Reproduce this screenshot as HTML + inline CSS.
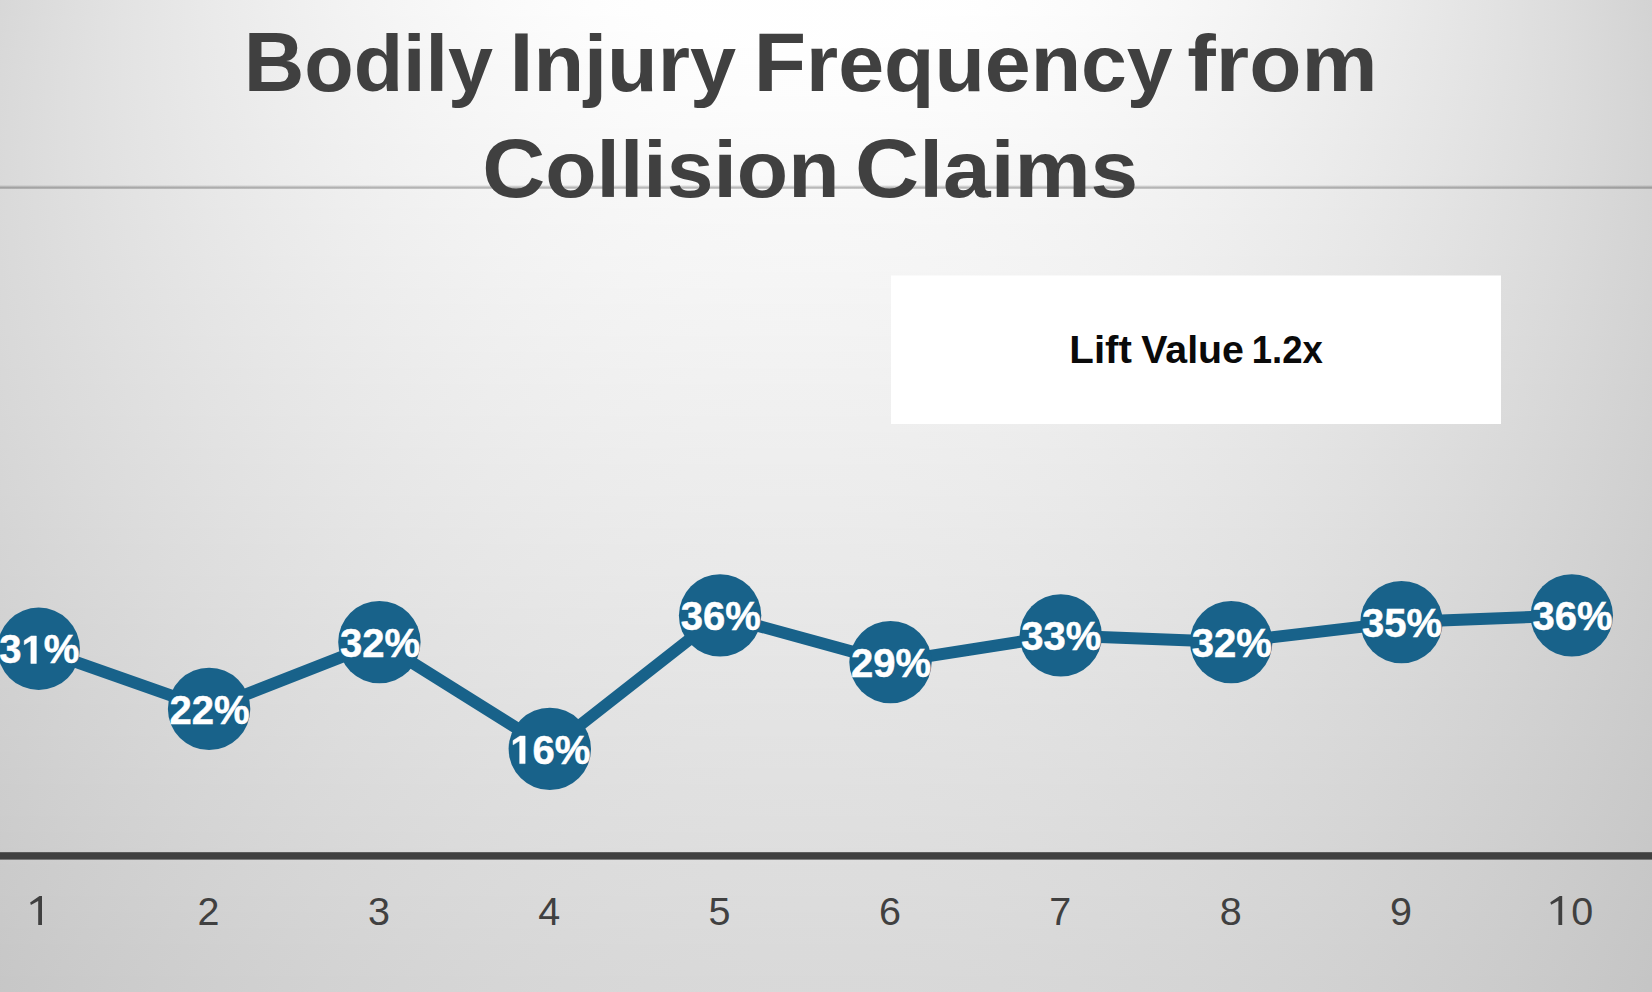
<!DOCTYPE html>
<html><head><meta charset="utf-8"><title>Bodily Injury Frequency from Collision Claims</title>
<style>
html,body{margin:0;padding:0;width:1652px;height:992px;overflow:hidden;background:#dcdcdc;}
body{font-family:"Liberation Sans",sans-serif;}
#bg{position:absolute;left:0;top:0;width:1652px;height:992px;overflow:hidden;}
#bg div{position:absolute;left:0;width:1652px;height:16px;}
svg{position:absolute;left:0;top:0;}
.title text{font-family:"Liberation Sans",sans-serif;font-weight:bold;font-size:80px;fill:#404040;text-anchor:start;}
.dl text{font-family:"Liberation Sans",sans-serif;font-weight:bold;font-size:40px;text-anchor:start;}
.ax text{font-family:"Liberation Sans",sans-serif;font-size:39.5px;fill:#404040;text-anchor:middle;}
.lift{font-family:"Liberation Sans",sans-serif;font-weight:bold;font-size:38.5px;fill:#0a0a0a;text-anchor:start;}
</style></head>
<body>
<div id="bg">
<div style="top:0px;background:linear-gradient(90deg,rgb(215.7,215.7,215.7),rgb(222.2,222.2,222.2),rgb(228.1,228.1,228.1),rgb(233.5,233.5,233.5),rgb(238.3,238.3,238.3),rgb(242.6,242.6,242.6),rgb(246.2,246.2,246.2),rgb(249.3,249.3,249.3),rgb(251.8,251.8,251.8),rgb(253.7,253.7,253.7),rgb(254.4,254.4,254.4),rgb(254.5,254.5,254.5),rgb(254.6,254.6,254.6),rgb(254.6,254.6,254.6),rgb(254.5,254.5,254.5),rgb(252.8,252.8,252.8),rgb(250.6,250.6,250.6),rgb(247.8,247.8,247.8),rgb(244.3,244.3,244.3),rgb(240.3,240.3,240.3),rgb(235.7,235.7,235.7),rgb(230.4,230.4,230.4),rgb(224.6,224.6,224.6),rgb(218.1,218.1,218.1),rgb(211.1,211.1,211.1))"></div>
<div style="top:16px;background:linear-gradient(90deg,rgb(216.0,216.0,216.0),rgb(222.4,222.4,222.4),rgb(228.2,228.2,228.2),rgb(233.4,233.4,233.4),rgb(238.1,238.1,238.1),rgb(242.3,242.3,242.3),rgb(245.8,245.8,245.8),rgb(248.9,248.9,248.9),rgb(251.3,251.3,251.3),rgb(253.2,253.2,253.2),rgb(254.4,254.4,254.4),rgb(254.5,254.5,254.5),rgb(254.6,254.6,254.6),rgb(254.6,254.6,254.6),rgb(253.9,253.9,253.9),rgb(252.3,252.3,252.3),rgb(250.1,250.1,250.1),rgb(247.3,247.3,247.3),rgb(243.9,243.9,243.9),rgb(240.0,240.0,240.0),rgb(235.4,235.4,235.4),rgb(230.3,230.3,230.3),rgb(224.5,224.5,224.5),rgb(218.2,218.2,218.2),rgb(211.3,211.3,211.3))"></div>
<div style="top:32px;background:linear-gradient(90deg,rgb(216.3,216.3,216.3),rgb(222.5,222.5,222.5),rgb(228.2,228.2,228.2),rgb(233.3,233.3,233.3),rgb(237.9,237.9,237.9),rgb(242.0,242.0,242.0),rgb(245.5,245.5,245.5),rgb(248.4,248.4,248.4),rgb(250.8,250.8,250.8),rgb(252.6,252.6,252.6),rgb(253.9,253.9,253.9),rgb(254.6,254.6,254.6),rgb(254.6,254.6,254.6),rgb(254.3,254.3,254.3),rgb(253.2,253.2,253.2),rgb(251.7,251.7,251.7),rgb(249.5,249.5,249.5),rgb(246.8,246.8,246.8),rgb(243.5,243.5,243.5),rgb(239.6,239.6,239.6),rgb(235.1,235.1,235.1),rgb(230.1,230.1,230.1),rgb(224.5,224.5,224.5),rgb(218.3,218.3,218.3),rgb(211.5,211.5,211.5))"></div>
<div style="top:48px;background:linear-gradient(90deg,rgb(216.6,216.6,216.6),rgb(222.6,222.6,222.6),rgb(228.2,228.2,228.2),rgb(233.2,233.2,233.2),rgb(237.7,237.7,237.7),rgb(241.7,241.7,241.7),rgb(245.1,245.1,245.1),rgb(247.9,247.9,247.9),rgb(250.3,250.3,250.3),rgb(252.0,252.0,252.0),rgb(253.3,253.3,253.3),rgb(253.9,253.9,253.9),rgb(254.1,254.1,254.1),rgb(253.6,253.6,253.6),rgb(252.6,252.6,252.6),rgb(251.1,251.1,251.1),rgb(249.0,249.0,249.0),rgb(246.3,246.3,246.3),rgb(243.0,243.0,243.0),rgb(239.2,239.2,239.2),rgb(234.8,234.8,234.8),rgb(229.9,229.9,229.9),rgb(224.4,224.4,224.4),rgb(218.3,218.3,218.3),rgb(211.6,211.6,211.6))"></div>
<div style="top:64px;background:linear-gradient(90deg,rgb(216.8,216.8,216.8),rgb(222.7,222.7,222.7),rgb(228.2,228.2,228.2),rgb(233.1,233.1,233.1),rgb(237.5,237.5,237.5),rgb(241.3,241.3,241.3),rgb(244.7,244.7,244.7),rgb(247.5,247.5,247.5),rgb(249.7,249.7,249.7),rgb(251.5,251.5,251.5),rgb(252.7,252.7,252.7),rgb(253.3,253.3,253.3),rgb(253.4,253.4,253.4),rgb(253.0,253.0,253.0),rgb(252.0,252.0,252.0),rgb(250.5,250.5,250.5),rgb(248.4,248.4,248.4),rgb(245.8,245.8,245.8),rgb(242.6,242.6,242.6),rgb(238.8,238.8,238.8),rgb(234.5,234.5,234.5),rgb(229.7,229.7,229.7),rgb(224.2,224.2,224.2),rgb(218.3,218.3,218.3),rgb(211.7,211.7,211.7))"></div>
<div style="top:80px;background:linear-gradient(90deg,rgb(217.0,217.0,217.0),rgb(222.8,222.8,222.8),rgb(228.1,228.1,228.1),rgb(232.9,232.9,232.9),rgb(237.2,237.2,237.2),rgb(241.0,241.0,241.0),rgb(244.3,244.3,244.3),rgb(247.0,247.0,247.0),rgb(249.2,249.2,249.2),rgb(250.9,250.9,250.9),rgb(252.1,252.1,252.1),rgb(252.7,252.7,252.7),rgb(252.8,252.8,252.8),rgb(252.4,252.4,252.4),rgb(251.4,251.4,251.4),rgb(249.9,249.9,249.9),rgb(247.8,247.8,247.8),rgb(245.2,245.2,245.2),rgb(242.1,242.1,242.1),rgb(238.4,238.4,238.4),rgb(234.2,234.2,234.2),rgb(229.4,229.4,229.4),rgb(224.1,224.1,224.1),rgb(218.2,218.2,218.2),rgb(211.8,211.8,211.8))"></div>
<div style="top:96px;background:linear-gradient(90deg,rgb(217.1,217.1,217.1),rgb(222.8,222.8,222.8),rgb(228.0,228.0,228.0),rgb(232.7,232.7,232.7),rgb(236.9,236.9,236.9),rgb(240.6,240.6,240.6),rgb(243.8,243.8,243.8),rgb(246.5,246.5,246.5),rgb(248.7,248.7,248.7),rgb(250.3,250.3,250.3),rgb(251.5,251.5,251.5),rgb(252.1,252.1,252.1),rgb(252.2,252.2,252.2),rgb(251.7,251.7,251.7),rgb(250.8,250.8,250.8),rgb(249.3,249.3,249.3),rgb(247.3,247.3,247.3),rgb(244.7,244.7,244.7),rgb(241.6,241.6,241.6),rgb(238.0,238.0,238.0),rgb(233.8,233.8,233.8),rgb(229.1,229.1,229.1),rgb(223.9,223.9,223.9),rgb(218.2,218.2,218.2),rgb(211.9,211.9,211.9))"></div>
<div style="top:112px;background:linear-gradient(90deg,rgb(217.2,217.2,217.2),rgb(222.8,222.8,222.8),rgb(227.9,227.9,227.9),rgb(232.5,232.5,232.5),rgb(236.7,236.7,236.7),rgb(240.3,240.3,240.3),rgb(243.4,243.4,243.4),rgb(246.0,246.0,246.0),rgb(248.1,248.1,248.1),rgb(249.8,249.8,249.8),rgb(250.9,250.9,250.9),rgb(251.5,251.5,251.5),rgb(251.5,251.5,251.5),rgb(251.1,251.1,251.1),rgb(250.1,250.1,250.1),rgb(248.7,248.7,248.7),rgb(246.7,246.7,246.7),rgb(244.2,244.2,244.2),rgb(241.1,241.1,241.1),rgb(237.6,237.6,237.6),rgb(233.5,233.5,233.5),rgb(228.9,228.9,228.9),rgb(223.7,223.7,223.7),rgb(218.1,218.1,218.1),rgb(211.9,211.9,211.9))"></div>
<div style="top:128px;background:linear-gradient(90deg,rgb(217.3,217.3,217.3),rgb(222.8,222.8,222.8),rgb(227.8,227.8,227.8),rgb(232.3,232.3,232.3),rgb(236.3,236.3,236.3),rgb(239.9,239.9,239.9),rgb(243.0,243.0,243.0),rgb(245.5,245.5,245.5),rgb(247.6,247.6,247.6),rgb(249.2,249.2,249.2),rgb(250.2,250.2,250.2),rgb(250.8,250.8,250.8),rgb(250.9,250.9,250.9),rgb(250.5,250.5,250.5),rgb(249.5,249.5,249.5),rgb(248.1,248.1,248.1),rgb(246.1,246.1,246.1),rgb(243.6,243.6,243.6),rgb(240.6,240.6,240.6),rgb(237.1,237.1,237.1),rgb(233.1,233.1,233.1),rgb(228.6,228.6,228.6),rgb(223.5,223.5,223.5),rgb(218.0,218.0,218.0),rgb(211.9,211.9,211.9))"></div>
<div style="top:144px;background:linear-gradient(90deg,rgb(217.4,217.4,217.4),rgb(222.8,222.8,222.8),rgb(227.7,227.7,227.7),rgb(232.1,232.1,232.1),rgb(236.0,236.0,236.0),rgb(239.5,239.5,239.5),rgb(242.5,242.5,242.5),rgb(245.0,245.0,245.0),rgb(247.0,247.0,247.0),rgb(248.6,248.6,248.6),rgb(249.6,249.6,249.6),rgb(250.2,250.2,250.2),rgb(250.3,250.3,250.3),rgb(249.8,249.8,249.8),rgb(248.9,248.9,248.9),rgb(247.5,247.5,247.5),rgb(245.5,245.5,245.5),rgb(243.1,243.1,243.1),rgb(240.1,240.1,240.1),rgb(236.7,236.7,236.7),rgb(232.7,232.7,232.7),rgb(228.3,228.3,228.3),rgb(223.3,223.3,223.3),rgb(217.8,217.8,217.8),rgb(211.8,211.8,211.8))"></div>
<div style="top:160px;background:linear-gradient(90deg,rgb(217.4,217.4,217.4),rgb(222.7,222.7,222.7),rgb(227.5,227.5,227.5),rgb(231.8,231.8,231.8),rgb(235.7,235.7,235.7),rgb(239.1,239.1,239.1),rgb(242.0,242.0,242.0),rgb(244.5,244.5,244.5),rgb(246.5,246.5,246.5),rgb(248.0,248.0,248.0),rgb(249.0,249.0,249.0),rgb(249.6,249.6,249.6),rgb(249.6,249.6,249.6),rgb(249.2,249.2,249.2),rgb(248.3,248.3,248.3),rgb(246.8,246.8,246.8),rgb(244.9,244.9,244.9),rgb(242.5,242.5,242.5),rgb(239.6,239.6,239.6),rgb(236.2,236.2,236.2),rgb(232.4,232.4,232.4),rgb(228.0,228.0,228.0),rgb(223.1,223.1,223.1),rgb(217.7,217.7,217.7),rgb(211.8,211.8,211.8))"></div>
<div style="top:176px;background:linear-gradient(90deg,rgb(217.4,217.4,217.4),rgb(222.6,222.6,222.6),rgb(227.3,227.3,227.3),rgb(231.6,231.6,231.6),rgb(235.4,235.4,235.4),rgb(238.7,238.7,238.7),rgb(241.6,241.6,241.6),rgb(244.0,244.0,244.0),rgb(245.9,245.9,245.9),rgb(247.4,247.4,247.4),rgb(248.4,248.4,248.4),rgb(248.9,248.9,248.9),rgb(249.0,249.0,249.0),rgb(248.5,248.5,248.5),rgb(247.6,247.6,247.6),rgb(246.2,246.2,246.2),rgb(244.4,244.4,244.4),rgb(242.0,242.0,242.0),rgb(239.1,239.1,239.1),rgb(235.8,235.8,235.8),rgb(232.0,232.0,232.0),rgb(227.6,227.6,227.6),rgb(222.8,222.8,222.8),rgb(217.5,217.5,217.5),rgb(211.7,211.7,211.7))"></div>
<div style="top:192px;background:linear-gradient(90deg,rgb(217.4,217.4,217.4),rgb(222.5,222.5,222.5),rgb(227.1,227.1,227.1),rgb(231.3,231.3,231.3),rgb(235.0,235.0,235.0),rgb(238.3,238.3,238.3),rgb(241.1,241.1,241.1),rgb(243.5,243.5,243.5),rgb(245.4,245.4,245.4),rgb(246.8,246.8,246.8),rgb(247.8,247.8,247.8),rgb(248.3,248.3,248.3),rgb(248.3,248.3,248.3),rgb(247.9,247.9,247.9),rgb(247.0,247.0,247.0),rgb(245.6,245.6,245.6),rgb(243.8,243.8,243.8),rgb(241.4,241.4,241.4),rgb(238.6,238.6,238.6),rgb(235.3,235.3,235.3),rgb(231.5,231.5,231.5),rgb(227.3,227.3,227.3),rgb(222.5,222.5,222.5),rgb(217.3,217.3,217.3),rgb(211.6,211.6,211.6))"></div>
<div style="top:208px;background:linear-gradient(90deg,rgb(217.4,217.4,217.4),rgb(222.3,222.3,222.3),rgb(226.9,226.9,226.9),rgb(231.0,231.0,231.0),rgb(234.6,234.6,234.6),rgb(237.9,237.9,237.9),rgb(240.6,240.6,240.6),rgb(242.9,242.9,242.9),rgb(244.8,244.8,244.8),rgb(246.2,246.2,246.2),rgb(247.2,247.2,247.2),rgb(247.7,247.7,247.7),rgb(247.7,247.7,247.7),rgb(247.3,247.3,247.3),rgb(246.4,246.4,246.4),rgb(245.0,245.0,245.0),rgb(243.2,243.2,243.2),rgb(240.9,240.9,240.9),rgb(238.1,238.1,238.1),rgb(234.9,234.9,234.9),rgb(231.1,231.1,231.1),rgb(226.9,226.9,226.9),rgb(222.3,222.3,222.3),rgb(217.1,217.1,217.1),rgb(211.5,211.5,211.5))"></div>
<div style="top:224px;background:linear-gradient(90deg,rgb(217.3,217.3,217.3),rgb(222.2,222.2,222.2),rgb(226.6,226.6,226.6),rgb(230.7,230.7,230.7),rgb(234.3,234.3,234.3),rgb(237.4,237.4,237.4),rgb(240.1,240.1,240.1),rgb(242.4,242.4,242.4),rgb(244.2,244.2,244.2),rgb(245.6,245.6,245.6),rgb(246.5,246.5,246.5),rgb(247.0,247.0,247.0),rgb(247.0,247.0,247.0),rgb(246.6,246.6,246.6),rgb(245.7,245.7,245.7),rgb(244.4,244.4,244.4),rgb(242.6,242.6,242.6),rgb(240.3,240.3,240.3),rgb(237.6,237.6,237.6),rgb(234.4,234.4,234.4),rgb(230.7,230.7,230.7),rgb(226.6,226.6,226.6),rgb(222.0,222.0,222.0),rgb(216.9,216.9,216.9),rgb(211.4,211.4,211.4))"></div>
<div style="top:240px;background:linear-gradient(90deg,rgb(217.2,217.2,217.2),rgb(222.0,222.0,222.0),rgb(226.4,226.4,226.4),rgb(230.3,230.3,230.3),rgb(233.9,233.9,233.9),rgb(237.0,237.0,237.0),rgb(239.6,239.6,239.6),rgb(241.9,241.9,241.9),rgb(243.7,243.7,243.7),rgb(245.0,245.0,245.0),rgb(245.9,245.9,245.9),rgb(246.4,246.4,246.4),rgb(246.4,246.4,246.4),rgb(246.0,246.0,246.0),rgb(245.1,245.1,245.1),rgb(243.8,243.8,243.8),rgb(242.0,242.0,242.0),rgb(239.7,239.7,239.7),rgb(237.0,237.0,237.0),rgb(233.9,233.9,233.9),rgb(230.3,230.3,230.3),rgb(226.2,226.2,226.2),rgb(221.7,221.7,221.7),rgb(216.7,216.7,216.7),rgb(211.2,211.2,211.2))"></div>
<div style="top:256px;background:linear-gradient(90deg,rgb(217.1,217.1,217.1),rgb(221.8,221.8,221.8),rgb(226.1,226.1,226.1),rgb(230.0,230.0,230.0),rgb(233.5,233.5,233.5),rgb(236.5,236.5,236.5),rgb(239.1,239.1,239.1),rgb(241.3,241.3,241.3),rgb(243.1,243.1,243.1),rgb(244.4,244.4,244.4),rgb(245.3,245.3,245.3),rgb(245.7,245.7,245.7),rgb(245.8,245.8,245.8),rgb(245.3,245.3,245.3),rgb(244.5,244.5,244.5),rgb(243.1,243.1,243.1),rgb(241.4,241.4,241.4),rgb(239.2,239.2,239.2),rgb(236.5,236.5,236.5),rgb(233.4,233.4,233.4),rgb(229.8,229.8,229.8),rgb(225.8,225.8,225.8),rgb(221.3,221.3,221.3),rgb(216.4,216.4,216.4),rgb(211.0,211.0,211.0))"></div>
<div style="top:272px;background:linear-gradient(90deg,rgb(217.0,217.0,217.0),rgb(221.6,221.6,221.6),rgb(225.8,225.8,225.8),rgb(229.7,229.7,229.7),rgb(233.1,233.1,233.1),rgb(236.0,236.0,236.0),rgb(238.6,238.6,238.6),rgb(240.8,240.8,240.8),rgb(242.5,242.5,242.5),rgb(243.8,243.8,243.8),rgb(244.7,244.7,244.7),rgb(245.1,245.1,245.1),rgb(245.1,245.1,245.1),rgb(244.7,244.7,244.7),rgb(243.8,243.8,243.8),rgb(242.5,242.5,242.5),rgb(240.8,240.8,240.8),rgb(238.6,238.6,238.6),rgb(236.0,236.0,236.0),rgb(232.9,232.9,232.9),rgb(229.4,229.4,229.4),rgb(225.4,225.4,225.4),rgb(221.0,221.0,221.0),rgb(216.2,216.2,216.2),rgb(210.9,210.9,210.9))"></div>
<div style="top:288px;background:linear-gradient(90deg,rgb(216.8,216.8,216.8),rgb(221.4,221.4,221.4),rgb(225.5,225.5,225.5),rgb(229.3,229.3,229.3),rgb(232.6,232.6,232.6),rgb(235.6,235.6,235.6),rgb(238.1,238.1,238.1),rgb(240.2,240.2,240.2),rgb(241.9,241.9,241.9),rgb(243.2,243.2,243.2),rgb(244.0,244.0,244.0),rgb(244.5,244.5,244.5),rgb(244.5,244.5,244.5),rgb(244.0,244.0,244.0),rgb(243.2,243.2,243.2),rgb(241.9,241.9,241.9),rgb(240.2,240.2,240.2),rgb(238.0,238.0,238.0),rgb(235.4,235.4,235.4),rgb(232.4,232.4,232.4),rgb(228.9,228.9,228.9),rgb(225.0,225.0,225.0),rgb(220.7,220.7,220.7),rgb(215.9,215.9,215.9),rgb(210.7,210.7,210.7))"></div>
<div style="top:304px;background:linear-gradient(90deg,rgb(216.7,216.7,216.7),rgb(221.1,221.1,221.1),rgb(225.2,225.2,225.2),rgb(228.9,228.9,228.9),rgb(232.2,232.2,232.2),rgb(235.1,235.1,235.1),rgb(237.6,237.6,237.6),rgb(239.7,239.7,239.7),rgb(241.3,241.3,241.3),rgb(242.6,242.6,242.6),rgb(243.4,243.4,243.4),rgb(243.8,243.8,243.8),rgb(243.8,243.8,243.8),rgb(243.4,243.4,243.4),rgb(242.5,242.5,242.5),rgb(241.3,241.3,241.3),rgb(239.6,239.6,239.6),rgb(237.5,237.5,237.5),rgb(234.9,234.9,234.9),rgb(231.9,231.9,231.9),rgb(228.5,228.5,228.5),rgb(224.6,224.6,224.6),rgb(220.3,220.3,220.3),rgb(215.6,215.6,215.6),rgb(210.4,210.4,210.4))"></div>
<div style="top:320px;background:linear-gradient(90deg,rgb(216.5,216.5,216.5),rgb(220.9,220.9,220.9),rgb(224.9,224.9,224.9),rgb(228.5,228.5,228.5),rgb(231.8,231.8,231.8),rgb(234.6,234.6,234.6),rgb(237.0,237.0,237.0),rgb(239.1,239.1,239.1),rgb(240.7,240.7,240.7),rgb(241.9,241.9,241.9),rgb(242.8,242.8,242.8),rgb(243.2,243.2,243.2),rgb(243.2,243.2,243.2),rgb(242.7,242.7,242.7),rgb(241.9,241.9,241.9),rgb(240.6,240.6,240.6),rgb(239.0,239.0,239.0),rgb(236.9,236.9,236.9),rgb(234.3,234.3,234.3),rgb(231.4,231.4,231.4),rgb(228.0,228.0,228.0),rgb(224.2,224.2,224.2),rgb(220.0,220.0,220.0),rgb(215.3,215.3,215.3),rgb(210.2,210.2,210.2))"></div>
<div style="top:336px;background:linear-gradient(90deg,rgb(216.3,216.3,216.3),rgb(220.6,220.6,220.6),rgb(224.6,224.6,224.6),rgb(228.1,228.1,228.1),rgb(231.3,231.3,231.3),rgb(234.1,234.1,234.1),rgb(236.5,236.5,236.5),rgb(238.5,238.5,238.5),rgb(240.1,240.1,240.1),rgb(241.3,241.3,241.3),rgb(242.1,242.1,242.1),rgb(242.5,242.5,242.5),rgb(242.5,242.5,242.5),rgb(242.1,242.1,242.1),rgb(241.3,241.3,241.3),rgb(240.0,240.0,240.0),rgb(238.4,238.4,238.4),rgb(236.3,236.3,236.3),rgb(233.8,233.8,233.8),rgb(230.9,230.9,230.9),rgb(227.6,227.6,227.6),rgb(223.8,223.8,223.8),rgb(219.6,219.6,219.6),rgb(215.0,215.0,215.0),rgb(210.0,210.0,210.0))"></div>
<div style="top:352px;background:linear-gradient(90deg,rgb(216.1,216.1,216.1),rgb(220.3,220.3,220.3),rgb(224.2,224.2,224.2),rgb(227.7,227.7,227.7),rgb(230.9,230.9,230.9),rgb(233.6,233.6,233.6),rgb(236.0,236.0,236.0),rgb(237.9,237.9,237.9),rgb(239.5,239.5,239.5),rgb(240.7,240.7,240.7),rgb(241.5,241.5,241.5),rgb(241.9,241.9,241.9),rgb(241.9,241.9,241.9),rgb(241.4,241.4,241.4),rgb(240.6,240.6,240.6),rgb(239.4,239.4,239.4),rgb(237.8,237.8,237.8),rgb(235.7,235.7,235.7),rgb(233.3,233.3,233.3),rgb(230.4,230.4,230.4),rgb(227.1,227.1,227.1),rgb(223.4,223.4,223.4),rgb(219.3,219.3,219.3),rgb(214.7,214.7,214.7),rgb(209.8,209.8,209.8))"></div>
<div style="top:368px;background:linear-gradient(90deg,rgb(215.8,215.8,215.8),rgb(220.0,220.0,220.0),rgb(223.9,223.9,223.9),rgb(227.3,227.3,227.3),rgb(230.4,230.4,230.4),rgb(233.1,233.1,233.1),rgb(235.4,235.4,235.4),rgb(237.4,237.4,237.4),rgb(238.9,238.9,238.9),rgb(240.1,240.1,240.1),rgb(240.9,240.9,240.9),rgb(241.2,241.2,241.2),rgb(241.2,241.2,241.2),rgb(240.8,240.8,240.8),rgb(240.0,240.0,240.0),rgb(238.8,238.8,238.8),rgb(237.2,237.2,237.2),rgb(235.1,235.1,235.1),rgb(232.7,232.7,232.7),rgb(229.9,229.9,229.9),rgb(226.6,226.6,226.6),rgb(223.0,223.0,223.0),rgb(218.9,218.9,218.9),rgb(214.4,214.4,214.4),rgb(209.5,209.5,209.5))"></div>
<div style="top:384px;background:linear-gradient(90deg,rgb(215.6,215.6,215.6),rgb(219.7,219.7,219.7),rgb(223.5,223.5,223.5),rgb(226.9,226.9,226.9),rgb(229.9,229.9,229.9),rgb(232.6,232.6,232.6),rgb(234.9,234.9,234.9),rgb(236.8,236.8,236.8),rgb(238.3,238.3,238.3),rgb(239.5,239.5,239.5),rgb(240.2,240.2,240.2),rgb(240.6,240.6,240.6),rgb(240.6,240.6,240.6),rgb(240.2,240.2,240.2),rgb(239.3,239.3,239.3),rgb(238.1,238.1,238.1),rgb(236.5,236.5,236.5),rgb(234.5,234.5,234.5),rgb(232.1,232.1,232.1),rgb(229.3,229.3,229.3),rgb(226.1,226.1,226.1),rgb(222.5,222.5,222.5),rgb(218.5,218.5,218.5),rgb(214.1,214.1,214.1),rgb(209.2,209.2,209.2))"></div>
<div style="top:400px;background:linear-gradient(90deg,rgb(215.3,215.3,215.3),rgb(219.4,219.4,219.4),rgb(223.1,223.1,223.1),rgb(226.5,226.5,226.5),rgb(229.5,229.5,229.5),rgb(232.1,232.1,232.1),rgb(234.3,234.3,234.3),rgb(236.2,236.2,236.2),rgb(237.7,237.7,237.7),rgb(238.8,238.8,238.8),rgb(239.6,239.6,239.6),rgb(239.9,239.9,239.9),rgb(239.9,239.9,239.9),rgb(239.5,239.5,239.5),rgb(238.7,238.7,238.7),rgb(237.5,237.5,237.5),rgb(235.9,235.9,235.9),rgb(234.0,234.0,234.0),rgb(231.6,231.6,231.6),rgb(228.8,228.8,228.8),rgb(225.7,225.7,225.7),rgb(222.1,222.1,222.1),rgb(218.1,218.1,218.1),rgb(213.7,213.7,213.7),rgb(209.0,209.0,209.0))"></div>
<div style="top:416px;background:linear-gradient(90deg,rgb(215.0,215.0,215.0),rgb(219.0,219.0,219.0),rgb(222.7,222.7,222.7),rgb(226.0,226.0,226.0),rgb(229.0,229.0,229.0),rgb(231.6,231.6,231.6),rgb(233.8,233.8,233.8),rgb(235.6,235.6,235.6),rgb(237.1,237.1,237.1),rgb(238.2,238.2,238.2),rgb(238.9,238.9,238.9),rgb(239.3,239.3,239.3),rgb(239.3,239.3,239.3),rgb(238.9,238.9,238.9),rgb(238.1,238.1,238.1),rgb(236.9,236.9,236.9),rgb(235.3,235.3,235.3),rgb(233.4,233.4,233.4),rgb(231.0,231.0,231.0),rgb(228.3,228.3,228.3),rgb(225.2,225.2,225.2),rgb(221.6,221.6,221.6),rgb(217.7,217.7,217.7),rgb(213.4,213.4,213.4),rgb(208.7,208.7,208.7))"></div>
<div style="top:432px;background:linear-gradient(90deg,rgb(214.7,214.7,214.7),rgb(218.7,218.7,218.7),rgb(222.3,222.3,222.3),rgb(225.6,225.6,225.6),rgb(228.5,228.5,228.5),rgb(231.0,231.0,231.0),rgb(233.2,233.2,233.2),rgb(235.0,235.0,235.0),rgb(236.5,236.5,236.5),rgb(237.6,237.6,237.6),rgb(238.3,238.3,238.3),rgb(238.6,238.6,238.6),rgb(238.6,238.6,238.6),rgb(238.2,238.2,238.2),rgb(237.4,237.4,237.4),rgb(236.3,236.3,236.3),rgb(234.7,234.7,234.7),rgb(232.8,232.8,232.8),rgb(230.5,230.5,230.5),rgb(227.8,227.8,227.8),rgb(224.7,224.7,224.7),rgb(221.2,221.2,221.2),rgb(217.3,217.3,217.3),rgb(213.1,213.1,213.1),rgb(208.4,208.4,208.4))"></div>
<div style="top:448px;background:linear-gradient(90deg,rgb(214.4,214.4,214.4),rgb(218.3,218.3,218.3),rgb(221.9,221.9,221.9),rgb(225.1,225.1,225.1),rgb(228.0,228.0,228.0),rgb(230.5,230.5,230.5),rgb(232.6,232.6,232.6),rgb(234.4,234.4,234.4),rgb(235.9,235.9,235.9),rgb(236.9,236.9,236.9),rgb(237.7,237.7,237.7),rgb(238.0,238.0,238.0),rgb(238.0,238.0,238.0),rgb(237.6,237.6,237.6),rgb(236.8,236.8,236.8),rgb(235.6,235.6,235.6),rgb(234.1,234.1,234.1),rgb(232.2,232.2,232.2),rgb(229.9,229.9,229.9),rgb(227.3,227.3,227.3),rgb(224.2,224.2,224.2),rgb(220.8,220.8,220.8),rgb(216.9,216.9,216.9),rgb(212.7,212.7,212.7),rgb(208.1,208.1,208.1))"></div>
<div style="top:464px;background:linear-gradient(90deg,rgb(214.1,214.1,214.1),rgb(218.0,218.0,218.0),rgb(221.5,221.5,221.5),rgb(224.6,224.6,224.6),rgb(227.5,227.5,227.5),rgb(229.9,229.9,229.9),rgb(232.1,232.1,232.1),rgb(233.8,233.8,233.8),rgb(235.3,235.3,235.3),rgb(236.3,236.3,236.3),rgb(237.0,237.0,237.0),rgb(237.3,237.3,237.3),rgb(237.3,237.3,237.3),rgb(236.9,236.9,236.9),rgb(236.2,236.2,236.2),rgb(235.0,235.0,235.0),rgb(233.5,233.5,233.5),rgb(231.6,231.6,231.6),rgb(229.4,229.4,229.4),rgb(226.7,226.7,226.7),rgb(223.7,223.7,223.7),rgb(220.3,220.3,220.3),rgb(216.5,216.5,216.5),rgb(212.4,212.4,212.4),rgb(207.8,207.8,207.8))"></div>
<div style="top:480px;background:linear-gradient(90deg,rgb(213.8,213.8,213.8),rgb(217.6,217.6,217.6),rgb(221.0,221.0,221.0),rgb(224.2,224.2,224.2),rgb(227.0,227.0,227.0),rgb(229.4,229.4,229.4),rgb(231.5,231.5,231.5),rgb(233.2,233.2,233.2),rgb(234.6,234.6,234.6),rgb(235.7,235.7,235.7),rgb(236.4,236.4,236.4),rgb(236.7,236.7,236.7),rgb(236.7,236.7,236.7),rgb(236.3,236.3,236.3),rgb(235.5,235.5,235.5),rgb(234.4,234.4,234.4),rgb(232.9,232.9,232.9),rgb(231.0,231.0,231.0),rgb(228.8,228.8,228.8),rgb(226.2,226.2,226.2),rgb(223.2,223.2,223.2),rgb(219.9,219.9,219.9),rgb(216.1,216.1,216.1),rgb(212.0,212.0,212.0),rgb(207.5,207.5,207.5))"></div>
<div style="top:496px;background:linear-gradient(90deg,rgb(213.4,213.4,213.4),rgb(217.2,217.2,217.2),rgb(220.6,220.6,220.6),rgb(223.7,223.7,223.7),rgb(226.4,226.4,226.4),rgb(228.8,228.8,228.8),rgb(230.9,230.9,230.9),rgb(232.6,232.6,232.6),rgb(234.0,234.0,234.0),rgb(235.0,235.0,235.0),rgb(235.7,235.7,235.7),rgb(236.0,236.0,236.0),rgb(236.0,236.0,236.0),rgb(235.6,235.6,235.6),rgb(234.9,234.9,234.9),rgb(233.8,233.8,233.8),rgb(232.3,232.3,232.3),rgb(230.4,230.4,230.4),rgb(228.2,228.2,228.2),rgb(225.7,225.7,225.7),rgb(222.7,222.7,222.7),rgb(219.4,219.4,219.4),rgb(215.7,215.7,215.7),rgb(211.6,211.6,211.6),rgb(207.2,207.2,207.2))"></div>
<div style="top:512px;background:linear-gradient(90deg,rgb(213.0,213.0,213.0),rgb(216.8,216.8,216.8),rgb(220.1,220.1,220.1),rgb(223.2,223.2,223.2),rgb(225.9,225.9,225.9),rgb(228.3,228.3,228.3),rgb(230.3,230.3,230.3),rgb(232.0,232.0,232.0),rgb(233.4,233.4,233.4),rgb(234.4,234.4,234.4),rgb(235.1,235.1,235.1),rgb(235.4,235.4,235.4),rgb(235.4,235.4,235.4),rgb(235.0,235.0,235.0),rgb(234.2,234.2,234.2),rgb(233.1,233.1,233.1),rgb(231.7,231.7,231.7),rgb(229.9,229.9,229.9),rgb(227.7,227.7,227.7),rgb(225.1,225.1,225.1),rgb(222.2,222.2,222.2),rgb(218.9,218.9,218.9),rgb(215.3,215.3,215.3),rgb(211.3,211.3,211.3),rgb(206.9,206.9,206.9))"></div>
<div style="top:528px;background:linear-gradient(90deg,rgb(212.7,212.7,212.7),rgb(216.3,216.3,216.3),rgb(219.7,219.7,219.7),rgb(222.7,222.7,222.7),rgb(225.4,225.4,225.4),rgb(227.7,227.7,227.7),rgb(229.7,229.7,229.7),rgb(231.4,231.4,231.4),rgb(232.8,232.8,232.8),rgb(233.8,233.8,233.8),rgb(234.4,234.4,234.4),rgb(234.7,234.7,234.7),rgb(234.7,234.7,234.7),rgb(234.3,234.3,234.3),rgb(233.6,233.6,233.6),rgb(232.5,232.5,232.5),rgb(231.1,231.1,231.1),rgb(229.3,229.3,229.3),rgb(227.1,227.1,227.1),rgb(224.6,224.6,224.6),rgb(221.7,221.7,221.7),rgb(218.5,218.5,218.5),rgb(214.9,214.9,214.9),rgb(210.9,210.9,210.9),rgb(206.6,206.6,206.6))"></div>
<div style="top:544px;background:linear-gradient(90deg,rgb(212.3,212.3,212.3),rgb(215.9,215.9,215.9),rgb(219.2,219.2,219.2),rgb(222.2,222.2,222.2),rgb(224.8,224.8,224.8),rgb(227.2,227.2,227.2),rgb(229.2,229.2,229.2),rgb(230.8,230.8,230.8),rgb(232.1,232.1,232.1),rgb(233.1,233.1,233.1),rgb(233.8,233.8,233.8),rgb(234.1,234.1,234.1),rgb(234.1,234.1,234.1),rgb(233.7,233.7,233.7),rgb(233.0,233.0,233.0),rgb(231.9,231.9,231.9),rgb(230.5,230.5,230.5),rgb(228.7,228.7,228.7),rgb(226.6,226.6,226.6),rgb(224.1,224.1,224.1),rgb(221.2,221.2,221.2),rgb(218.0,218.0,218.0),rgb(214.5,214.5,214.5),rgb(210.5,210.5,210.5),rgb(206.2,206.2,206.2))"></div>
<div style="top:560px;background:linear-gradient(90deg,rgb(211.9,211.9,211.9),rgb(215.5,215.5,215.5),rgb(218.7,218.7,218.7),rgb(221.7,221.7,221.7),rgb(224.3,224.3,224.3),rgb(226.6,226.6,226.6),rgb(228.6,228.6,228.6),rgb(230.2,230.2,230.2),rgb(231.5,231.5,231.5),rgb(232.5,232.5,232.5),rgb(233.1,233.1,233.1),rgb(233.4,233.4,233.4),rgb(233.4,233.4,233.4),rgb(233.0,233.0,233.0),rgb(232.3,232.3,232.3),rgb(231.3,231.3,231.3),rgb(229.9,229.9,229.9),rgb(228.1,228.1,228.1),rgb(226.0,226.0,226.0),rgb(223.5,223.5,223.5),rgb(220.7,220.7,220.7),rgb(217.6,217.6,217.6),rgb(214.0,214.0,214.0),rgb(210.2,210.2,210.2),rgb(205.9,205.9,205.9))"></div>
<div style="top:576px;background:linear-gradient(90deg,rgb(211.5,211.5,211.5),rgb(215.0,215.0,215.0),rgb(218.3,218.3,218.3),rgb(221.2,221.2,221.2),rgb(223.7,223.7,223.7),rgb(226.0,226.0,226.0),rgb(228.0,228.0,228.0),rgb(229.6,229.6,229.6),rgb(230.9,230.9,230.9),rgb(231.9,231.9,231.9),rgb(232.5,232.5,232.5),rgb(232.8,232.8,232.8),rgb(232.8,232.8,232.8),rgb(232.4,232.4,232.4),rgb(231.7,231.7,231.7),rgb(230.6,230.6,230.6),rgb(229.3,229.3,229.3),rgb(227.5,227.5,227.5),rgb(225.4,225.4,225.4),rgb(223.0,223.0,223.0),rgb(220.2,220.2,220.2),rgb(217.1,217.1,217.1),rgb(213.6,213.6,213.6),rgb(209.8,209.8,209.8),rgb(205.6,205.6,205.6))"></div>
<div style="top:592px;background:linear-gradient(90deg,rgb(211.1,211.1,211.1),rgb(214.6,214.6,214.6),rgb(217.8,217.8,217.8),rgb(220.6,220.6,220.6),rgb(223.2,223.2,223.2),rgb(225.4,225.4,225.4),rgb(227.4,227.4,227.4),rgb(229.0,229.0,229.0),rgb(230.3,230.3,230.3),rgb(231.2,231.2,231.2),rgb(231.8,231.8,231.8),rgb(232.1,232.1,232.1),rgb(232.1,232.1,232.1),rgb(231.8,231.8,231.8),rgb(231.1,231.1,231.1),rgb(230.0,230.0,230.0),rgb(228.6,228.6,228.6),rgb(226.9,226.9,226.9),rgb(224.9,224.9,224.9),rgb(222.5,222.5,222.5),rgb(219.7,219.7,219.7),rgb(216.6,216.6,216.6),rgb(213.2,213.2,213.2),rgb(209.4,209.4,209.4),rgb(205.2,205.2,205.2))"></div>
<div style="top:608px;background:linear-gradient(90deg,rgb(210.7,210.7,210.7),rgb(214.1,214.1,214.1),rgb(217.3,217.3,217.3),rgb(220.1,220.1,220.1),rgb(222.6,222.6,222.6),rgb(224.9,224.9,224.9),rgb(226.8,226.8,226.8),rgb(228.4,228.4,228.4),rgb(229.6,229.6,229.6),rgb(230.6,230.6,230.6),rgb(231.2,231.2,231.2),rgb(231.5,231.5,231.5),rgb(231.5,231.5,231.5),rgb(231.1,231.1,231.1),rgb(230.4,230.4,230.4),rgb(229.4,229.4,229.4),rgb(228.0,228.0,228.0),rgb(226.3,226.3,226.3),rgb(224.3,224.3,224.3),rgb(221.9,221.9,221.9),rgb(219.2,219.2,219.2),rgb(216.2,216.2,216.2),rgb(212.8,212.8,212.8),rgb(209.0,209.0,209.0),rgb(204.9,204.9,204.9))"></div>
<div style="top:624px;background:linear-gradient(90deg,rgb(210.2,210.2,210.2),rgb(213.6,213.6,213.6),rgb(216.8,216.8,216.8),rgb(219.6,219.6,219.6),rgb(222.1,222.1,222.1),rgb(224.3,224.3,224.3),rgb(226.2,226.2,226.2),rgb(227.7,227.7,227.7),rgb(229.0,229.0,229.0),rgb(229.9,229.9,229.9),rgb(230.5,230.5,230.5),rgb(230.8,230.8,230.8),rgb(230.8,230.8,230.8),rgb(230.5,230.5,230.5),rgb(229.8,229.8,229.8),rgb(228.8,228.8,228.8),rgb(227.4,227.4,227.4),rgb(225.8,225.8,225.8),rgb(223.8,223.8,223.8),rgb(221.4,221.4,221.4),rgb(218.7,218.7,218.7),rgb(215.7,215.7,215.7),rgb(212.3,212.3,212.3),rgb(208.6,208.6,208.6),rgb(204.6,204.6,204.6))"></div>
<div style="top:640px;background:linear-gradient(90deg,rgb(209.8,209.8,209.8),rgb(213.2,213.2,213.2),rgb(216.2,216.2,216.2),rgb(219.0,219.0,219.0),rgb(221.5,221.5,221.5),rgb(223.7,223.7,223.7),rgb(225.5,225.5,225.5),rgb(227.1,227.1,227.1),rgb(228.4,228.4,228.4),rgb(229.3,229.3,229.3),rgb(229.9,229.9,229.9),rgb(230.2,230.2,230.2),rgb(230.2,230.2,230.2),rgb(229.8,229.8,229.8),rgb(229.2,229.2,229.2),rgb(228.2,228.2,228.2),rgb(226.8,226.8,226.8),rgb(225.2,225.2,225.2),rgb(223.2,223.2,223.2),rgb(220.9,220.9,220.9),rgb(218.2,218.2,218.2),rgb(215.2,215.2,215.2),rgb(211.9,211.9,211.9),rgb(208.2,208.2,208.2),rgb(204.2,204.2,204.2))"></div>
<div style="top:656px;background:linear-gradient(90deg,rgb(209.3,209.3,209.3),rgb(212.7,212.7,212.7),rgb(215.7,215.7,215.7),rgb(218.5,218.5,218.5),rgb(220.9,220.9,220.9),rgb(223.1,223.1,223.1),rgb(224.9,224.9,224.9),rgb(226.5,226.5,226.5),rgb(227.7,227.7,227.7),rgb(228.6,228.6,228.6),rgb(229.3,229.3,229.3),rgb(229.5,229.5,229.5),rgb(229.5,229.5,229.5),rgb(229.2,229.2,229.2),rgb(228.5,228.5,228.5),rgb(227.5,227.5,227.5),rgb(226.2,226.2,226.2),rgb(224.6,224.6,224.6),rgb(222.6,222.6,222.6),rgb(220.3,220.3,220.3),rgb(217.7,217.7,217.7),rgb(214.8,214.8,214.8),rgb(211.5,211.5,211.5),rgb(207.8,207.8,207.8),rgb(203.9,203.9,203.9))"></div>
<div style="top:672px;background:linear-gradient(90deg,rgb(208.9,208.9,208.9),rgb(212.2,212.2,212.2),rgb(215.2,215.2,215.2),rgb(217.9,217.9,217.9),rgb(220.4,220.4,220.4),rgb(222.5,222.5,222.5),rgb(224.3,224.3,224.3),rgb(225.9,225.9,225.9),rgb(227.1,227.1,227.1),rgb(228.0,228.0,228.0),rgb(228.6,228.6,228.6),rgb(228.9,228.9,228.9),rgb(228.9,228.9,228.9),rgb(228.6,228.6,228.6),rgb(227.9,227.9,227.9),rgb(226.9,226.9,226.9),rgb(225.6,225.6,225.6),rgb(224.0,224.0,224.0),rgb(222.1,222.1,222.1),rgb(219.8,219.8,219.8),rgb(217.2,217.2,217.2),rgb(214.3,214.3,214.3),rgb(211.0,211.0,211.0),rgb(207.5,207.5,207.5),rgb(203.5,203.5,203.5))"></div>
<div style="top:688px;background:linear-gradient(90deg,rgb(208.4,208.4,208.4),rgb(211.7,211.7,211.7),rgb(214.7,214.7,214.7),rgb(217.4,217.4,217.4),rgb(219.8,219.8,219.8),rgb(221.9,221.9,221.9),rgb(223.7,223.7,223.7),rgb(225.2,225.2,225.2),rgb(226.4,226.4,226.4),rgb(227.4,227.4,227.4),rgb(228.0,228.0,228.0),rgb(228.3,228.3,228.3),rgb(228.2,228.2,228.2),rgb(227.9,227.9,227.9),rgb(227.3,227.3,227.3),rgb(226.3,226.3,226.3),rgb(225.0,225.0,225.0),rgb(223.4,223.4,223.4),rgb(221.5,221.5,221.5),rgb(219.3,219.3,219.3),rgb(216.7,216.7,216.7),rgb(213.8,213.8,213.8),rgb(210.6,210.6,210.6),rgb(207.1,207.1,207.1),rgb(203.2,203.2,203.2))"></div>
<div style="top:704px;background:linear-gradient(90deg,rgb(207.9,207.9,207.9),rgb(211.2,211.2,211.2),rgb(214.1,214.1,214.1),rgb(216.8,216.8,216.8),rgb(219.2,219.2,219.2),rgb(221.3,221.3,221.3),rgb(223.1,223.1,223.1),rgb(224.6,224.6,224.6),rgb(225.8,225.8,225.8),rgb(226.7,226.7,226.7),rgb(227.3,227.3,227.3),rgb(227.6,227.6,227.6),rgb(227.6,227.6,227.6),rgb(227.3,227.3,227.3),rgb(226.6,226.6,226.6),rgb(225.7,225.7,225.7),rgb(224.4,224.4,224.4),rgb(222.9,222.9,222.9),rgb(221.0,221.0,221.0),rgb(218.8,218.8,218.8),rgb(216.2,216.2,216.2),rgb(213.4,213.4,213.4),rgb(210.2,210.2,210.2),rgb(206.7,206.7,206.7),rgb(202.8,202.8,202.8))"></div>
<div style="top:720px;background:linear-gradient(90deg,rgb(207.4,207.4,207.4),rgb(210.6,210.6,210.6),rgb(213.6,213.6,213.6),rgb(216.2,216.2,216.2),rgb(218.6,218.6,218.6),rgb(220.7,220.7,220.7),rgb(222.5,222.5,222.5),rgb(224.0,224.0,224.0),rgb(225.2,225.2,225.2),rgb(226.1,226.1,226.1),rgb(226.7,226.7,226.7),rgb(227.0,227.0,227.0),rgb(227.0,227.0,227.0),rgb(226.6,226.6,226.6),rgb(226.0,226.0,226.0),rgb(225.1,225.1,225.1),rgb(223.9,223.9,223.9),rgb(222.3,222.3,222.3),rgb(220.4,220.4,220.4),rgb(218.2,218.2,218.2),rgb(215.7,215.7,215.7),rgb(212.9,212.9,212.9),rgb(209.8,209.8,209.8),rgb(206.3,206.3,206.3),rgb(202.5,202.5,202.5))"></div>
<div style="top:736px;background:linear-gradient(90deg,rgb(206.9,206.9,206.9),rgb(210.1,210.1,210.1),rgb(213.0,213.0,213.0),rgb(215.7,215.7,215.7),rgb(218.0,218.0,218.0),rgb(220.1,220.1,220.1),rgb(221.8,221.8,221.8),rgb(223.3,223.3,223.3),rgb(224.5,224.5,224.5),rgb(225.4,225.4,225.4),rgb(226.0,226.0,226.0),rgb(226.3,226.3,226.3),rgb(226.3,226.3,226.3),rgb(226.0,226.0,226.0),rgb(225.4,225.4,225.4),rgb(224.5,224.5,224.5),rgb(223.3,223.3,223.3),rgb(221.7,221.7,221.7),rgb(219.9,219.9,219.9),rgb(217.7,217.7,217.7),rgb(215.2,215.2,215.2),rgb(212.4,212.4,212.4),rgb(209.3,209.3,209.3),rgb(205.9,205.9,205.9),rgb(202.1,202.1,202.1))"></div>
<div style="top:752px;background:linear-gradient(90deg,rgb(206.4,206.4,206.4),rgb(209.6,209.6,209.6),rgb(212.5,212.5,212.5),rgb(215.1,215.1,215.1),rgb(217.4,217.4,217.4),rgb(219.5,219.5,219.5),rgb(221.2,221.2,221.2),rgb(222.7,222.7,222.7),rgb(223.9,223.9,223.9),rgb(224.8,224.8,224.8),rgb(225.4,225.4,225.4),rgb(225.7,225.7,225.7),rgb(225.7,225.7,225.7),rgb(225.4,225.4,225.4),rgb(224.8,224.8,224.8),rgb(223.9,223.9,223.9),rgb(222.7,222.7,222.7),rgb(221.2,221.2,221.2),rgb(219.3,219.3,219.3),rgb(217.2,217.2,217.2),rgb(214.7,214.7,214.7),rgb(212.0,212.0,212.0),rgb(208.9,208.9,208.9),rgb(205.5,205.5,205.5),rgb(201.8,201.8,201.8))"></div>
<div style="top:768px;background:linear-gradient(90deg,rgb(205.9,205.9,205.9),rgb(209.1,209.1,209.1),rgb(211.9,211.9,211.9),rgb(214.5,214.5,214.5),rgb(216.8,216.8,216.8),rgb(218.8,218.8,218.8),rgb(220.6,220.6,220.6),rgb(222.1,222.1,222.1),rgb(223.2,223.2,223.2),rgb(224.1,224.1,224.1),rgb(224.7,224.7,224.7),rgb(225.0,225.0,225.0),rgb(225.0,225.0,225.0),rgb(224.7,224.7,224.7),rgb(224.2,224.2,224.2),rgb(223.3,223.3,223.3),rgb(222.1,222.1,222.1),rgb(220.6,220.6,220.6),rgb(218.8,218.8,218.8),rgb(216.7,216.7,216.7),rgb(214.2,214.2,214.2),rgb(211.5,211.5,211.5),rgb(208.5,208.5,208.5),rgb(205.1,205.1,205.1),rgb(201.4,201.4,201.4))"></div>
<div style="top:784px;background:linear-gradient(90deg,rgb(205.4,205.4,205.4),rgb(208.5,208.5,208.5),rgb(211.3,211.3,211.3),rgb(213.9,213.9,213.9),rgb(216.2,216.2,216.2),rgb(218.2,218.2,218.2),rgb(220.0,220.0,220.0),rgb(221.4,221.4,221.4),rgb(222.6,222.6,222.6),rgb(223.5,223.5,223.5),rgb(224.1,224.1,224.1),rgb(224.4,224.4,224.4),rgb(224.4,224.4,224.4),rgb(224.1,224.1,224.1),rgb(223.5,223.5,223.5),rgb(222.7,222.7,222.7),rgb(221.5,221.5,221.5),rgb(220.0,220.0,220.0),rgb(218.2,218.2,218.2),rgb(216.1,216.1,216.1),rgb(213.8,213.8,213.8),rgb(211.1,211.1,211.1),rgb(208.0,208.0,208.0),rgb(204.7,204.7,204.7),rgb(201.1,201.1,201.1))"></div>
<div style="top:800px;background:linear-gradient(90deg,rgb(204.9,204.9,204.9),rgb(208.0,208.0,208.0),rgb(210.8,210.8,210.8),rgb(213.3,213.3,213.3),rgb(215.6,215.6,215.6),rgb(217.6,217.6,217.6),rgb(219.3,219.3,219.3),rgb(220.8,220.8,220.8),rgb(221.9,221.9,221.9),rgb(222.8,222.8,222.8),rgb(223.4,223.4,223.4),rgb(223.7,223.7,223.7),rgb(223.8,223.8,223.8),rgb(223.5,223.5,223.5),rgb(222.9,222.9,222.9),rgb(222.1,222.1,222.1),rgb(220.9,220.9,220.9),rgb(219.4,219.4,219.4),rgb(217.7,217.7,217.7),rgb(215.6,215.6,215.6),rgb(213.3,213.3,213.3),rgb(210.6,210.6,210.6),rgb(207.6,207.6,207.6),rgb(204.3,204.3,204.3),rgb(200.7,200.7,200.7))"></div>
<div style="top:816px;background:linear-gradient(90deg,rgb(204.3,204.3,204.3),rgb(207.4,207.4,207.4),rgb(210.2,210.2,210.2),rgb(212.7,212.7,212.7),rgb(215.0,215.0,215.0),rgb(217.0,217.0,217.0),rgb(218.7,218.7,218.7),rgb(220.1,220.1,220.1),rgb(221.3,221.3,221.3),rgb(222.2,222.2,222.2),rgb(222.8,222.8,222.8),rgb(223.1,223.1,223.1),rgb(223.1,223.1,223.1),rgb(222.9,222.9,222.9),rgb(222.3,222.3,222.3),rgb(221.5,221.5,221.5),rgb(220.3,220.3,220.3),rgb(218.9,218.9,218.9),rgb(217.1,217.1,217.1),rgb(215.1,215.1,215.1),rgb(212.8,212.8,212.8),rgb(210.1,210.1,210.1),rgb(207.2,207.2,207.2),rgb(203.9,203.9,203.9),rgb(200.4,200.4,200.4))"></div>
<div style="top:832px;background:linear-gradient(90deg,rgb(203.8,203.8,203.8),rgb(206.8,206.8,206.8),rgb(209.6,209.6,209.6),rgb(212.1,212.1,212.1),rgb(214.4,214.4,214.4),rgb(216.4,216.4,216.4),rgb(218.1,218.1,218.1),rgb(219.5,219.5,219.5),rgb(220.7,220.7,220.7),rgb(221.5,221.5,221.5),rgb(222.1,222.1,222.1),rgb(222.5,222.5,222.5),rgb(222.5,222.5,222.5),rgb(222.2,222.2,222.2),rgb(221.7,221.7,221.7),rgb(220.9,220.9,220.9),rgb(219.7,219.7,219.7),rgb(218.3,218.3,218.3),rgb(216.6,216.6,216.6),rgb(214.6,214.6,214.6),rgb(212.3,212.3,212.3),rgb(209.7,209.7,209.7),rgb(206.8,206.8,206.8),rgb(203.5,203.5,203.5),rgb(200.0,200.0,200.0))"></div>
<div style="top:848px;background:linear-gradient(90deg,rgb(203.3,203.3,203.3),rgb(206.3,206.3,206.3),rgb(209.0,209.0,209.0),rgb(211.5,211.5,211.5),rgb(213.8,213.8,213.8),rgb(215.7,215.7,215.7),rgb(217.4,217.4,217.4),rgb(218.9,218.9,218.9),rgb(220.0,220.0,220.0),rgb(220.9,220.9,220.9),rgb(221.5,221.5,221.5),rgb(221.8,221.8,221.8),rgb(221.9,221.9,221.9),rgb(221.6,221.6,221.6),rgb(221.1,221.1,221.1),rgb(220.3,220.3,220.3),rgb(219.2,219.2,219.2),rgb(217.8,217.8,217.8),rgb(216.1,216.1,216.1),rgb(214.1,214.1,214.1),rgb(211.8,211.8,211.8),rgb(209.2,209.2,209.2),rgb(206.3,206.3,206.3),rgb(203.2,203.2,203.2),rgb(199.7,199.7,199.7))"></div>
<div style="top:864px;background:linear-gradient(90deg,rgb(202.7,202.7,202.7),rgb(205.7,205.7,205.7),rgb(208.4,208.4,208.4),rgb(210.9,210.9,210.9),rgb(213.1,213.1,213.1),rgb(215.1,215.1,215.1),rgb(216.8,216.8,216.8),rgb(218.2,218.2,218.2),rgb(219.4,219.4,219.4),rgb(220.2,220.2,220.2),rgb(220.8,220.8,220.8),rgb(221.2,221.2,221.2),rgb(221.2,221.2,221.2),rgb(221.0,221.0,221.0),rgb(220.5,220.5,220.5),rgb(219.7,219.7,219.7),rgb(218.6,218.6,218.6),rgb(217.2,217.2,217.2),rgb(215.5,215.5,215.5),rgb(213.6,213.6,213.6),rgb(211.3,211.3,211.3),rgb(208.8,208.8,208.8),rgb(205.9,205.9,205.9),rgb(202.8,202.8,202.8),rgb(199.3,199.3,199.3))"></div>
<div style="top:880px;background:linear-gradient(90deg,rgb(202.1,202.1,202.1),rgb(205.1,205.1,205.1),rgb(207.8,207.8,207.8),rgb(210.3,210.3,210.3),rgb(212.5,212.5,212.5),rgb(214.5,214.5,214.5),rgb(216.2,216.2,216.2),rgb(217.6,217.6,217.6),rgb(218.7,218.7,218.7),rgb(219.6,219.6,219.6),rgb(220.2,220.2,220.2),rgb(220.5,220.5,220.5),rgb(220.6,220.6,220.6),rgb(220.4,220.4,220.4),rgb(219.9,219.9,219.9),rgb(219.1,219.1,219.1),rgb(218.0,218.0,218.0),rgb(216.7,216.7,216.7),rgb(215.0,215.0,215.0),rgb(213.1,213.1,213.1),rgb(210.8,210.8,210.8),rgb(208.3,208.3,208.3),rgb(205.5,205.5,205.5),rgb(202.4,202.4,202.4),rgb(199.0,199.0,199.0))"></div>
<div style="top:896px;background:linear-gradient(90deg,rgb(201.6,201.6,201.6),rgb(204.5,204.5,204.5),rgb(207.2,207.2,207.2),rgb(209.7,209.7,209.7),rgb(211.9,211.9,211.9),rgb(213.8,213.8,213.8),rgb(215.5,215.5,215.5),rgb(216.9,216.9,216.9),rgb(218.1,218.1,218.1),rgb(219.0,219.0,219.0),rgb(219.6,219.6,219.6),rgb(219.9,219.9,219.9),rgb(220.0,220.0,220.0),rgb(219.8,219.8,219.8),rgb(219.3,219.3,219.3),rgb(218.5,218.5,218.5),rgb(217.4,217.4,217.4),rgb(216.1,216.1,216.1),rgb(214.5,214.5,214.5),rgb(212.6,212.6,212.6),rgb(210.4,210.4,210.4),rgb(207.9,207.9,207.9),rgb(205.1,205.1,205.1),rgb(202.0,202.0,202.0),rgb(198.6,198.6,198.6))"></div>
<div style="top:912px;background:linear-gradient(90deg,rgb(201.0,201.0,201.0),rgb(204.0,204.0,204.0),rgb(206.6,206.6,206.6),rgb(209.1,209.1,209.1),rgb(211.3,211.3,211.3),rgb(213.2,213.2,213.2),rgb(214.9,214.9,214.9),rgb(216.3,216.3,216.3),rgb(217.4,217.4,217.4),rgb(218.3,218.3,218.3),rgb(218.9,218.9,218.9),rgb(219.3,219.3,219.3),rgb(219.3,219.3,219.3),rgb(219.1,219.1,219.1),rgb(218.7,218.7,218.7),rgb(217.9,217.9,217.9),rgb(216.9,216.9,216.9),rgb(215.5,215.5,215.5),rgb(213.9,213.9,213.9),rgb(212.1,212.1,212.1),rgb(209.9,209.9,209.9),rgb(207.4,207.4,207.4),rgb(204.7,204.7,204.7),rgb(201.6,201.6,201.6),rgb(198.3,198.3,198.3))"></div>
<div style="top:928px;background:linear-gradient(90deg,rgb(200.4,200.4,200.4),rgb(203.4,203.4,203.4),rgb(206.0,206.0,206.0),rgb(208.5,208.5,208.5),rgb(210.6,210.6,210.6),rgb(212.6,212.6,212.6),rgb(214.2,214.2,214.2),rgb(215.6,215.6,215.6),rgb(216.8,216.8,216.8),rgb(217.7,217.7,217.7),rgb(218.3,218.3,218.3),rgb(218.6,218.6,218.6),rgb(218.7,218.7,218.7),rgb(218.5,218.5,218.5),rgb(218.1,218.1,218.1),rgb(217.3,217.3,217.3),rgb(216.3,216.3,216.3),rgb(215.0,215.0,215.0),rgb(213.4,213.4,213.4),rgb(211.6,211.6,211.6),rgb(209.4,209.4,209.4),rgb(207.0,207.0,207.0),rgb(204.3,204.3,204.3),rgb(201.3,201.3,201.3),rgb(198.0,198.0,198.0))"></div>
<div style="top:944px;background:linear-gradient(90deg,rgb(199.8,199.8,199.8),rgb(202.8,202.8,202.8),rgb(205.4,205.4,205.4),rgb(207.8,207.8,207.8),rgb(210.0,210.0,210.0),rgb(211.9,211.9,211.9),rgb(213.6,213.6,213.6),rgb(215.0,215.0,215.0),rgb(216.1,216.1,216.1),rgb(217.0,217.0,217.0),rgb(217.6,217.6,217.6),rgb(218.0,218.0,218.0),rgb(218.1,218.1,218.1),rgb(217.9,217.9,217.9),rgb(217.5,217.5,217.5),rgb(216.7,216.7,216.7),rgb(215.7,215.7,215.7),rgb(214.5,214.5,214.5),rgb(212.9,212.9,212.9),rgb(211.1,211.1,211.1),rgb(208.9,208.9,208.9),rgb(206.5,206.5,206.5),rgb(203.9,203.9,203.9),rgb(200.9,200.9,200.9),rgb(197.6,197.6,197.6))"></div>
<div style="top:960px;background:linear-gradient(90deg,rgb(199.3,199.3,199.3),rgb(202.2,202.2,202.2),rgb(204.8,204.8,204.8),rgb(207.2,207.2,207.2),rgb(209.4,209.4,209.4),rgb(211.3,211.3,211.3),rgb(212.9,212.9,212.9),rgb(214.3,214.3,214.3),rgb(215.5,215.5,215.5),rgb(216.4,216.4,216.4),rgb(217.0,217.0,217.0),rgb(217.4,217.4,217.4),rgb(217.5,217.5,217.5),rgb(217.3,217.3,217.3),rgb(216.9,216.9,216.9),rgb(216.2,216.2,216.2),rgb(215.2,215.2,215.2),rgb(213.9,213.9,213.9),rgb(212.4,212.4,212.4),rgb(210.6,210.6,210.6),rgb(208.5,208.5,208.5),rgb(206.1,206.1,206.1),rgb(203.5,203.5,203.5),rgb(200.5,200.5,200.5),rgb(197.3,197.3,197.3))"></div>
<div style="top:976px;background:linear-gradient(90deg,rgb(198.7,198.7,198.7),rgb(201.6,201.6,201.6),rgb(204.2,204.2,204.2),rgb(206.6,206.6,206.6),rgb(208.7,208.7,208.7),rgb(210.6,210.6,210.6),rgb(212.3,212.3,212.3),rgb(213.7,213.7,213.7),rgb(214.8,214.8,214.8),rgb(215.7,215.7,215.7),rgb(216.4,216.4,216.4),rgb(216.7,216.7,216.7),rgb(216.8,216.8,216.8),rgb(216.7,216.7,216.7),rgb(216.3,216.3,216.3),rgb(215.6,215.6,215.6),rgb(214.6,214.6,214.6),rgb(213.4,213.4,213.4),rgb(211.9,211.9,211.9),rgb(210.1,210.1,210.1),rgb(208.0,208.0,208.0),rgb(205.7,205.7,205.7),rgb(203.0,203.0,203.0),rgb(200.1,200.1,200.1),rgb(196.9,196.9,196.9))"></div>
</div>
<svg width="1652" height="992" viewBox="0 0 1652 992">
<defs><linearGradient id="gl" x1="0" y1="0" x2="0" y2="1"><stop offset="0" stop-color="#000" stop-opacity="0"/><stop offset="0.25" stop-color="#000" stop-opacity="0.09"/><stop offset="0.5" stop-color="#000" stop-opacity="0.24"/><stop offset="0.72" stop-color="#000" stop-opacity="0.28"/><stop offset="0.88" stop-color="#000" stop-opacity="0.12"/><stop offset="1" stop-color="#000" stop-opacity="0"/></linearGradient></defs>
<rect x="0" y="184.8" width="1652" height="4.6" fill="url(#gl)"/>
<g class="title">
<text transform="translate(243.63,90.5) scale(1.0117,1)"><tspan font-size="83px">B</tspan>odily</text>
<text transform="translate(509.48,90.5) scale(1.0363,1)"><tspan font-size="83px">I</tspan>njury</text>
<text transform="translate(753.81,90.5) scale(1.031,1)"><tspan font-size="83px">F</tspan>requency</text>
<text transform="translate(1187.33,90.5) scale(1.0698,1)">from</text>
<text transform="translate(482.15,197) scale(1.0515,1)"><tspan font-size="83px">C</tspan>ollision</text>
<text transform="translate(855.09,197) scale(1.0702,1)"><tspan font-size="83px">C</tspan>laims</text>
</g>
<rect x="891" y="275.5" width="610" height="148.5" fill="#ffffff"/>
<text class="lift" transform="translate(1069.37,362.8) scale(1.0446,1)">Lift</text>
<text class="lift" transform="translate(1141.2,362.8) scale(1.0222,1)">Value</text>
<text class="lift" transform="translate(1251.8,362.8) scale(0.9486,1)">1.2x</text>
<polyline points="38.7,648.8 209.1,708.9 379.4,642.1 549.8,748.9 720.1,615.4 890.5,662.1 1060.8,635.4 1231.2,642.1 1401.5,622.1 1571.8,615.4" fill="none" stroke="#18628a" stroke-width="12" stroke-linejoin="round"/>
<g fill="#18628a">
<circle cx="38.7" cy="648.8" r="41.2"/>
<circle cx="209.1" cy="708.9" r="41.2"/>
<circle cx="379.4" cy="642.1" r="41.2"/>
<circle cx="549.8" cy="748.9" r="41.2"/>
<circle cx="720.1" cy="615.4" r="41.2"/>
<circle cx="890.5" cy="662.1" r="41.2"/>
<circle cx="1060.8" cy="635.4" r="41.2"/>
<circle cx="1231.2" cy="642.1" r="41.2"/>
<circle cx="1401.5" cy="622.1" r="41.2"/>
<circle cx="1571.8" cy="615.4" r="41.2"/>
</g>
<g class="dl" fill="#fff" stroke="#fff" stroke-width="0.5">
<text x="-0.73" y="663.48">3</text>
<path transform="translate(21.52,663.48) scale(0.019531,-0.019531)" d="M478 0V1170L140 959V1180L493 1409H759V0Z" stroke-width="25.6"/>
<text x="43.76" y="663.48">%</text>
<text x="169.62" y="723.55">2</text>
<text x="191.87" y="723.55">2</text>
<text x="214.11" y="723.55">%</text>
<text x="339.97" y="656.80">3</text>
<text x="362.22" y="656.80">2</text>
<text x="384.46" y="656.80">%</text>
<path transform="translate(510.32,763.60) scale(0.019531,-0.019531)" d="M478 0V1170L140 959V1180L493 1409H759V0Z" stroke-width="25.6"/>
<text x="532.57" y="763.60">6</text>
<text x="554.81" y="763.60">%</text>
<text x="680.67" y="630.10">3</text>
<text x="702.92" y="630.10">6</text>
<text x="725.16" y="630.10">%</text>
<text x="851.02" y="676.83">2</text>
<text x="873.27" y="676.83">9</text>
<text x="895.51" y="676.83">%</text>
<text x="1021.37" y="650.12">3</text>
<text x="1043.62" y="650.12">3</text>
<text x="1065.86" y="650.12">%</text>
<text x="1191.72" y="656.80">3</text>
<text x="1213.97" y="656.80">2</text>
<text x="1236.21" y="656.80">%</text>
<text x="1362.07" y="636.77">3</text>
<text x="1384.32" y="636.77">5</text>
<text x="1406.56" y="636.77">%</text>
<text x="1532.42" y="630.10">3</text>
<text x="1554.67" y="630.10">6</text>
<text x="1576.91" y="630.10">%</text>
</g>
<rect x="0" y="852.2" width="1652" height="7.4" fill="#404040"/>
<g class="ax" fill="#404040">
<path transform="translate(42.0,925.1)" d="M0,-29 L0,0 L-3.8,0 L-3.8,-24.2 L-11.1,-20.2 L-11.85,-22.7 L-2.5,-29 Z"/>
<text x="208.6" y="925">2</text>
<text x="378.9" y="925">3</text>
<text x="549.2" y="925">4</text>
<text x="719.6" y="925">5</text>
<text x="890.0" y="925">6</text>
<text x="1060.3" y="925">7</text>
<text x="1230.7" y="925">8</text>
<text x="1401.0" y="925">9</text>
<path transform="translate(1562.2,924.9)" d="M0,-29 L0,0 L-3.8,0 L-3.8,-24.2 L-11.1,-20.2 L-11.85,-22.7 L-2.5,-29 Z"/>
<text x="1582.35" y="925">0</text>
</g>
</svg>
</body></html>
